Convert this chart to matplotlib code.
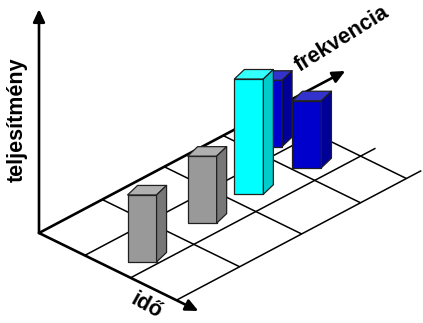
import matplotlib
matplotlib.use("Agg")
import matplotlib.pyplot as plt
from matplotlib.transforms import Affine2D
from matplotlib.patches import Polygon
import numpy as np

# Bars: where each one stands on the frequency/time floor and its performance
bar_freq = [0.34, 1.42, 2.24, 3.14, 3.11]
bar_time = [1.79, 1.64, 1.55, 0.74, 1.64]
bar_perf = [1.0, 1.0, 1.72, 0.99, 1.0]
bar_kind = ["gray", "gray", "cyan", "blue", "blue"]

# Floor grid lines (frequency and time units)
freq_lines = [0, 1.02, 2.02, 2.97, 3.71]
time_lines = [0, 1, 2, 3]
freq_grid_end = 3.95

# Axis extents (arrow tips)
freq_axis_end = 4.94
time_axis_end = 3.48
perf_axis_end = 3.34

perf_label = "teljesítmény"
freq_label = "frekvencia"
time_label = "idő"

# face colours: front, top, side
palette = {
    "gray": ("#999999", "#b0b0b0", "#777777"),
    "cyan": ("#00ffff", "#33ffff", "#00cccc"),
    "blue": ("#0000cc", "#3333cc", "#000099"),
}

W, H = 423, 323
fig = plt.figure(figsize=(W / 100, H / 100), dpi=100)
ax = fig.add_axes([0, 0, 1, 1])
ax.set_xlim(0, W)
ax.set_ylim(H, 0)
ax.axis("off")

# oblique floor projection: (frequency, time) -> canvas
origin = (39.0, 233.0)
floor = Affine2D(np.array([[62.0, 45.8, origin[0]],
                           [-32.8, 22.4, origin[1]],
                           [0.0, 0.0, 1.0]]))
floor_tr = floor + ax.transData
unit_h = 67.0
perf_tr = Affine2D().scale(1, -unit_h).translate(*origin) + ax.transData

grid_kw = dict(color="black", lw=1.1, solid_capstyle="butt", zorder=1)
for t in time_lines[1:]:
    ax.plot([0, freq_grid_end], [t, t], transform=floor_tr, **grid_kw)
for f in freq_lines[1:]:
    ax.plot([f, f], [time_lines[0], time_lines[-1]], transform=floor_tr, **grid_kw)

arrow_kw = dict(arrowstyle="-|>,head_length=0.75,head_width=0.35", lw=1.9,
                color="black", shrinkA=0, shrinkB=0, mutation_scale=10)
ax.annotate("", xy=(freq_axis_end, 0), xytext=(0, 0), xycoords=floor_tr,
            textcoords=floor_tr, arrowprops=arrow_kw, zorder=2)
ax.annotate("", xy=(0, time_axis_end), xytext=(0, 0), xycoords=floor_tr,
            textcoords=floor_tr, arrowprops=arrow_kw, zorder=2)
ax.annotate("", xy=(0, perf_axis_end), xytext=(0, 0), xycoords=perf_tr,
            textcoords=perf_tr, arrowprops=arrow_kw, zorder=2)

# boxes drawn from the back row forwards
bar_w, dep_x, dep_y = 29.0, 10.0, -9.5
order = sorted(range(len(bar_freq)), key=lambda i: (bar_time[i], -bar_freq[i]))
for k, i in enumerate(order):
    px, py = floor.transform((bar_freq[i], bar_time[i]))
    x0, x1 = px - bar_w / 2, px + bar_w / 2
    yb, yt = py, py - bar_perf[i] * unit_h
    front, top, side = palette[bar_kind[i]]
    z = 5 + k
    ec = dict(edgecolor="#202020", lw=0.9, joinstyle="round", zorder=z)
    ax.add_patch(Polygon([(x0, yb), (x1, yb), (x1, yt), (x0, yt)], facecolor=front, **ec))
    ax.add_patch(Polygon([(x0, yt), (x1, yt), (x1 + dep_x, yt + dep_y),
                          (x0 + dep_x, yt + dep_y)], facecolor=top, **ec))
    ax.add_patch(Polygon([(x1, yb), (x1, yt), (x1 + dep_x, yt + dep_y),
                          (x1 + dep_x, yb + dep_y)], facecolor=side, **ec))

txt = dict(fontsize=15.5, fontweight="bold", family="Liberation Sans",
           ha="center", va="center", rotation_mode="anchor")
ax.text(17.5, 120, perf_label, rotation=90, **txt)
ax.text(342, 39, freq_label, rotation=32, **txt)
ax.text(146, 306, time_label, rotation=-29, **txt)

fig.savefig("out.png", dpi=100)
